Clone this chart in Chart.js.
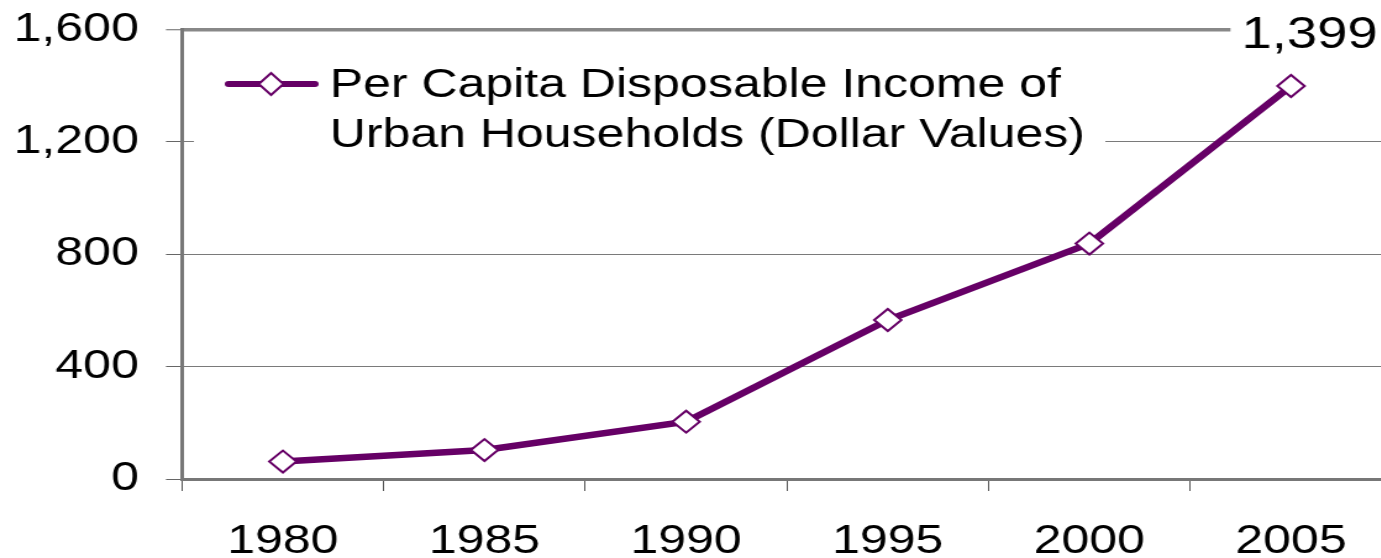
<!DOCTYPE html>
<html>
<head>
<meta charset="utf-8">
<script src="https://cdn.jsdelivr.net/npm/chart.js@4.4.1/dist/chart.umd.min.js"></script>
<style>
    html, body { margin: 0; padding: 0; background: #fff; overflow: hidden; }
    #wrap { width: 1140px; height: 558px; transform: scaleX(1.235); transform-origin: 0 0; }
</style>
</head>
<body>
<div id="wrap"><canvas id="myChart" width="1140" height="558"></canvas></div>
<script>
const years = ['1980', '1985', '1990', '1995', '2000', '2005'];
const income = [62, 103, 204, 566, 838, 1399];
const yTicks = [0, 400, 800, 1200, 1600];
const legendLines = ['Per Capita Disposable Income of', 'Urban Households (Dollar Values)'];

const purple = '#660066';
const font = 'Liberation Sans, Arial, sans-serif';

// legend box sits inside the plot, with a white background over the grid
const legendBox = {
    id: 'legendBox',
    beforeDatasetsDraw(chart) {
        const ctx = chart.ctx;
        ctx.save();
        ctx.fillStyle = '#fff';
        ctx.fillRect(157, 48, 738, 112);
        ctx.strokeStyle = purple;
        ctx.lineWidth = 6;
        ctx.lineCap = 'round';
        ctx.beginPath();
        ctx.moveTo(185, 84);
        ctx.lineTo(255, 84);
        ctx.stroke();
        ctx.beginPath();
        ctx.moveTo(209.5, 84);
        ctx.lineTo(219.5, 73);
        ctx.lineTo(229.5, 84);
        ctx.lineTo(219.5, 95);
        ctx.closePath();
        ctx.fillStyle = '#fff';
        ctx.fill();
        ctx.lineWidth = 2;
        ctx.stroke();
        ctx.fillStyle = '#000';
        ctx.font = '40.5px ' + font;
        ctx.textBaseline = 'alphabetic';
        ctx.fillText(legendLines[0], 267, 97);
        ctx.fillText(legendLines[1], 267, 147);
        ctx.restore();
    }
};

// value label on the last point
const lastLabel = {
    id: 'lastLabel',
    afterDatasetsDraw(chart) {
        const ctx = chart.ctx;
        const meta = chart.getDatasetMeta(0);
        const i = income.length - 1;
        const pt = meta.data[i];
        const text = income[i].toLocaleString('en-US');
        ctx.save();
        ctx.font = '44px ' + font;
        const w = ctx.measureText(text).width;
        const x = pt.x + 15 - w / 2;
        ctx.fillStyle = '#fff';
        ctx.fillRect(x - 9, 8, chart.width - x + 9, 50);
        ctx.fillStyle = '#000';
        ctx.textBaseline = 'alphabetic';
        ctx.fillText(text, x, pt.y - 38);
        ctx.restore();
    }
};

new Chart('myChart', {
    type: 'line',
    data: {
        labels: years,
        datasets: [{
            label: legendLines.join(' '),
            data: income,
            borderColor: purple,
            borderWidth: 6.5,
            lineTension: 0,
            fill: false,
            pointStyle: 'rectRot',
            pointRadius: 11,
            pointBorderWidth: 2,
            pointBackgroundColor: '#fff',
            pointBorderColor: purple,
        }]
    },
    options: {
        responsive: false,
        animation: false,
        layout: { padding: { top: 29.5, right: 3, left: 0, bottom: 0 } },
        plugins: {
            legend: { display: false },
            tooltip: { enabled: false }
        },
        scales: {
            x: {
                offset: true,
                grid: {
                    offset: true,
                    drawOnChartArea: false,
                    drawTicks: true,
                    tickLength: 12,
                    color: '#555',
                    lineWidth: 1
                },
                border: { color: '#777', width: 3 },
                ticks: {
                    color: '#000',
                    font: { family: font, size: 40.5 },
                    padding: 27,
                    maxRotation: 0
                },
                afterFit(scale) {
                    scale.height = 79;
                    scale.paddingLeft = 0;
                    scale.paddingRight = 0;
                }
            },
            y: {
                min: 0,
                max: 1600,
                afterBuildTicks(scale) {
                    scale.ticks = yTicks.map(v => ({ value: v }));
                },
                grid: {
                    color: ctx => ctx.tick && ctx.tick.value === 1600 ? '#888' : '#7a7a7a',
                    lineWidth: ctx => ctx.tick && ctx.tick.value === 1600 ? 3.5 : 1,
                    tickColor: '#666',
                    tickWidth: 1,
                    tickLength: 13
                },
                border: { color: '#777', width: 3 },
                ticks: {
                    color: '#000',
                    font: { family: font, size: 40.5 },
                    padding: 22,
                    callback: function (value) {
                        return value.toLocaleString('en-US');
                    }
                },
                afterFit(scale) {
                    scale.width = 147.4;
                    scale.paddingTop = 0;
                    scale.paddingBottom = 0;
                }
            }
        }
    },
    plugins: [legendBox, lastLabel]
});
</script>
</body>
</html>
